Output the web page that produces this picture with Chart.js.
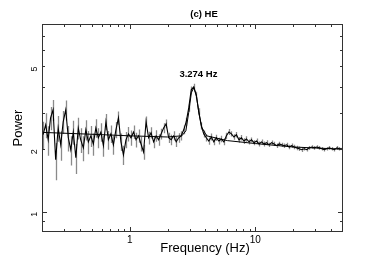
<!DOCTYPE html>
<html lang="en">
<head>
    <meta charset="UTF-8">
    <title>(c) HE power spectrum</title>
    <style>
        body {
            margin: 0;
            padding: 0;
            background-color: #fff;
        }

        canvas {
            display: block;
        }
    </style>
</head>
<body>
    <canvas id="pdsChart" width="387" height="273"></canvas>

    <script src="https://cdn.jsdelivr.net/npm/chart.js"></script>
    <script>
        // frequency bins (Hz)
        const frequency = [
            0.204, 0.214, 0.224, 0.234, 0.245, 0.257, 0.269, 0.282, 0.295, 0.309,
            0.324, 0.339, 0.355, 0.372, 0.389, 0.407, 0.427, 0.447, 0.468, 0.490,
            0.513, 0.537, 0.562, 0.589, 0.617, 0.646, 0.676, 0.708, 0.741, 0.776,
            0.813, 0.851, 0.891, 0.933, 0.977, 1.023, 1.072, 1.122, 1.175, 1.230,
            1.288, 1.349, 1.413, 1.479, 1.549, 1.622, 1.698, 1.778, 1.862, 1.950,
            2.042, 2.138, 2.239, 2.344, 2.455, 2.570, 2.692, 2.818, 2.951, 3.090,
            3.236, 3.388, 3.548, 3.715, 3.890, 4.074, 4.266, 4.467, 4.677, 4.898,
            5.129, 5.370, 5.623, 5.888, 6.166, 6.457, 6.761, 7.079, 7.413, 7.762,
            8.128, 8.511, 8.913, 9.333, 9.772, 10.23, 10.72, 11.22, 11.75, 12.30,
            12.88, 13.49, 14.13, 14.79, 15.49, 16.22, 16.98, 17.78, 18.62, 19.50,
            20.42, 21.38, 22.39, 23.44, 24.55, 25.70, 26.92, 28.18, 29.51, 30.90,
            32.36, 33.88, 35.48, 37.15, 38.90, 40.74, 42.66, 44.67, 46.77, 48.98
        ];

        // power
        const power = [
            2.35, 2.62, 2.22, 2.83, 3.09, 1.78, 2.53, 2.10, 2.71, 3.09,
            2.27, 1.99, 2.42, 1.82, 2.53, 2.22, 2.03, 2.48, 2.17, 2.32,
            2.12, 2.53, 2.27, 2.42, 2.08, 2.71, 2.22, 2.37, 2.10, 2.48,
            2.83, 2.17, 1.88, 2.22, 2.37, 2.27, 2.42, 2.22, 2.32, 2.12,
            1.94, 2.71, 2.27, 2.40, 2.17, 2.32, 2.22, 2.37, 2.53, 2.65,
            2.27, 2.22, 2.32, 2.17, 2.27, 2.32, 2.48, 2.71, 3.16, 3.86,
            3.99, 3.65, 3.03, 2.59, 2.37, 2.27, 2.19, 2.29, 2.17, 2.27,
            2.19, 2.24, 2.17, 2.32, 2.42, 2.37, 2.29, 2.35, 2.22, 2.27,
            2.19, 2.24, 2.17, 2.22, 2.15, 2.19, 2.12, 2.17, 2.12, 2.15,
            2.10, 2.15, 2.12, 2.08, 2.12, 2.10, 2.08, 2.10, 2.05, 2.08,
            2.05, 2.03, 2.01, 1.99, 2.01, 1.99, 2.03, 2.05, 2.03, 2.05,
            2.03, 2.01, 1.99, 2.01, 2.03, 2.01, 1.99, 2.03, 2.01, 2.01
        ];

        // 1-sigma errors
        const powerErr = [
            0.36, 0.36, 0.36, 0.36, 0.36, 0.36, 0.36, 0.34, 0.34, 0.34,
            0.32, 0.32, 0.32, 0.30, 0.30, 0.30, 0.28, 0.28, 0.28, 0.27,
            0.26, 0.26, 0.25, 0.25, 0.24, 0.24, 0.23, 0.23, 0.22, 0.22,
            0.21, 0.21, 0.20, 0.20, 0.19, 0.19, 0.18, 0.18, 0.17, 0.17,
            0.16, 0.16, 0.16, 0.15, 0.15, 0.15, 0.14, 0.14, 0.14, 0.13,
            0.13, 0.13, 0.12, 0.12, 0.12, 0.12, 0.12, 0.12, 0.13, 0.14,
            0.14, 0.13, 0.12, 0.10, 0.09, 0.09, 0.09, 0.09, 0.08, 0.08,
            0.08, 0.08, 0.08, 0.08, 0.08, 0.07, 0.07, 0.07, 0.07, 0.07,
            0.07, 0.07, 0.06, 0.06, 0.06, 0.06, 0.06, 0.06, 0.06, 0.06,
            0.05, 0.05, 0.05, 0.05, 0.05, 0.05, 0.05, 0.05, 0.05, 0.05,
            0.05, 0.05, 0.05, 0.05, 0.04, 0.04, 0.04, 0.04, 0.04, 0.04,
            0.04, 0.04, 0.04, 0.04, 0.04, 0.04, 0.04, 0.04, 0.04, 0.04
        ];

        // fitted model (continuum + Lorentzian)
        const modelFreq = [0.2, 0.5, 1, 2, 2.6, 2.8, 2.95, 3.1, 3.24, 3.4, 3.55, 3.75, 4.1, 6, 10, 20, 50];
        const modelPower = [2.41, 2.36, 2.32, 2.29, 2.32, 2.45, 3.0, 3.75, 3.95, 3.6, 3.0, 2.55, 2.32, 2.2, 2.13, 2.05, 2.0];

        const xTickLabels = [1, 10];
        const yTickLabels = [1, 2, 5];
        const xMinorTicks = [0.2, 0.3, 0.4, 0.5, 0.6, 0.7, 0.8, 0.9, 2, 3, 4, 5, 6, 7, 8, 9, 20, 30, 40, 50];
        const yMinorTicks = [0.8, 0.9, 2, 3, 4, 5, 6, 7, 8];
        const qpoLabel = '3.274 Hz';
        const qpoFreq = 3.274;

        const FONT = "'Liberation Sans', Arial, Helvetica, sans-serif";

        // gray error bars under the data line
        const errorBars = {
            id: 'errorBars',
            beforeDatasetsDraw(chart) {
                const x = chart.scales.x, y = chart.scales.y, ctx = chart.ctx;
                const area = chart.chartArea;
                ctx.save();
                ctx.beginPath();
                ctx.rect(area.left, area.top, area.right - area.left, area.bottom - area.top);
                ctx.clip();
                ctx.strokeStyle = '#8a8a8a';
                ctx.lineWidth = 1.3;
                ctx.beginPath();
                for (let i = 0; i < frequency.length; i++) {
                    const px = Math.round(x.getPixelForValue(frequency[i])) + 0.5;
                    ctx.moveTo(px, y.getPixelForValue(power[i] - powerErr[i]));
                    ctx.lineTo(px, y.getPixelForValue(power[i] + powerErr[i]));
                }
                ctx.stroke();
                ctx.restore();
            }
        };

        // box, inward ticks and text
        const frame = {
            id: 'frame',
            afterDraw(chart) {
                const x = chart.scales.x, y = chart.scales.y, ctx = chart.ctx;
                const a = chart.chartArea;
                ctx.save();
                ctx.strokeStyle = '#333';
                ctx.lineWidth = 1;
                ctx.strokeRect(a.left + 0.5, a.top + 0.5, a.right - a.left - 1, a.bottom - a.top - 1);
                ctx.beginPath();
                const xt = xTickLabels.map(v => [v, 5]).concat(xMinorTicks.map(v => [v, 3]));
                xt.forEach(([v, len]) => {
                    const px = Math.round(x.getPixelForValue(v)) + 0.5;
                    if (px < a.left || px > a.right) return;
                    ctx.moveTo(px, a.bottom); ctx.lineTo(px, a.bottom - len);
                    ctx.moveTo(px, a.top); ctx.lineTo(px, a.top + len);
                });
                const yt = [[1, 5]].concat(yMinorTicks.map(v => [v, 3]));
                yt.forEach(([v, len]) => {
                    const py = Math.round(y.getPixelForValue(v)) + 0.5;
                    if (py < a.top || py > a.bottom) return;
                    ctx.moveTo(a.left, py); ctx.lineTo(a.left + len, py);
                    ctx.moveTo(a.right, py); ctx.lineTo(a.right - len, py);
                });
                ctx.stroke();

                ctx.fillStyle = '#000';
                ctx.textAlign = 'center';
                ctx.textBaseline = 'middle';
                ctx.font = 'bold 9.5px ' + FONT;
                ctx.fillText('(c) HE', 204, 14);
                ctx.fillText(qpoLabel, x.getPixelForValue(qpoFreq) + 4, y.getPixelForValue(4.6));
                ctx.font = '13px ' + FONT;
                ctx.fillText('Frequency (Hz)', 205, 248);
                ctx.restore();
            }
        };

        const ctx = document.getElementById('pdsChart').getContext('2d');
        new Chart(ctx, {
            type: 'line',
            data: {
                datasets: [{
                    label: 'Power',
                    data: frequency.map((f, i) => ({ x: f, y: power[i] })),
                    borderColor: '#000',
                    borderWidth: 1.1,
                    pointRadius: 0,
                    tension: 0,
                    fill: false
                }, {
                    label: 'Model',
                    data: modelFreq.map((f, i) => ({ x: f, y: modelPower[i] })),
                    borderColor: '#000',
                    borderWidth: 1,
                    pointRadius: 0,
                    tension: 0,
                    fill: false
                }]
            },
            options: {
                responsive: false,
                animation: false,
                devicePixelRatio: 1,
                layout: { padding: { top: 24, right: 44, left: 0, bottom: 0 } },
                plugins: {
                    legend: { display: false },
                    title: { display: false },
                    tooltip: { enabled: false }
                },
                scales: {
                    x: {
                        type: 'logarithmic',
                        min: 0.2,
                        max: 50,
                        grid: { display: false, drawTicks: false },
                        border: { display: false },
                        afterBuildTicks: s => { s.ticks = xTickLabels.map(v => ({ value: v })); },
                        afterFit: s => { s.height = 41; },
                        ticks: {
                            padding: 2,
                            color: '#000',
                            font: { family: FONT, size: 10 },
                            maxRotation: 0,
                            callback: v => String(v)
                        }
                    },
                    y: {
                        type: 'logarithmic',
                        min: 0.8,
                        max: 8,
                        grid: { display: false, drawTicks: false },
                        border: { display: false },
                        afterBuildTicks: s => { s.ticks = yTickLabels.map(v => ({ value: v })); },
                        afterFit: s => { s.width = 42; },
                        title: {
                            display: true,
                            text: 'Power',
                            color: '#000',
                            font: { family: FONT, size: 13 },
                            padding: { top: 11, bottom: 0 }
                        },
                        ticks: {
                            padding: 7,
                            color: '#000',
                            font: { family: FONT, size: 9 },
                            minRotation: 90,
                            maxRotation: 90,
                            callback: v => String(v)
                        }
                    }
                }
            },
            plugins: [errorBars, frame]
        });
    </script>
</body>
</html>
